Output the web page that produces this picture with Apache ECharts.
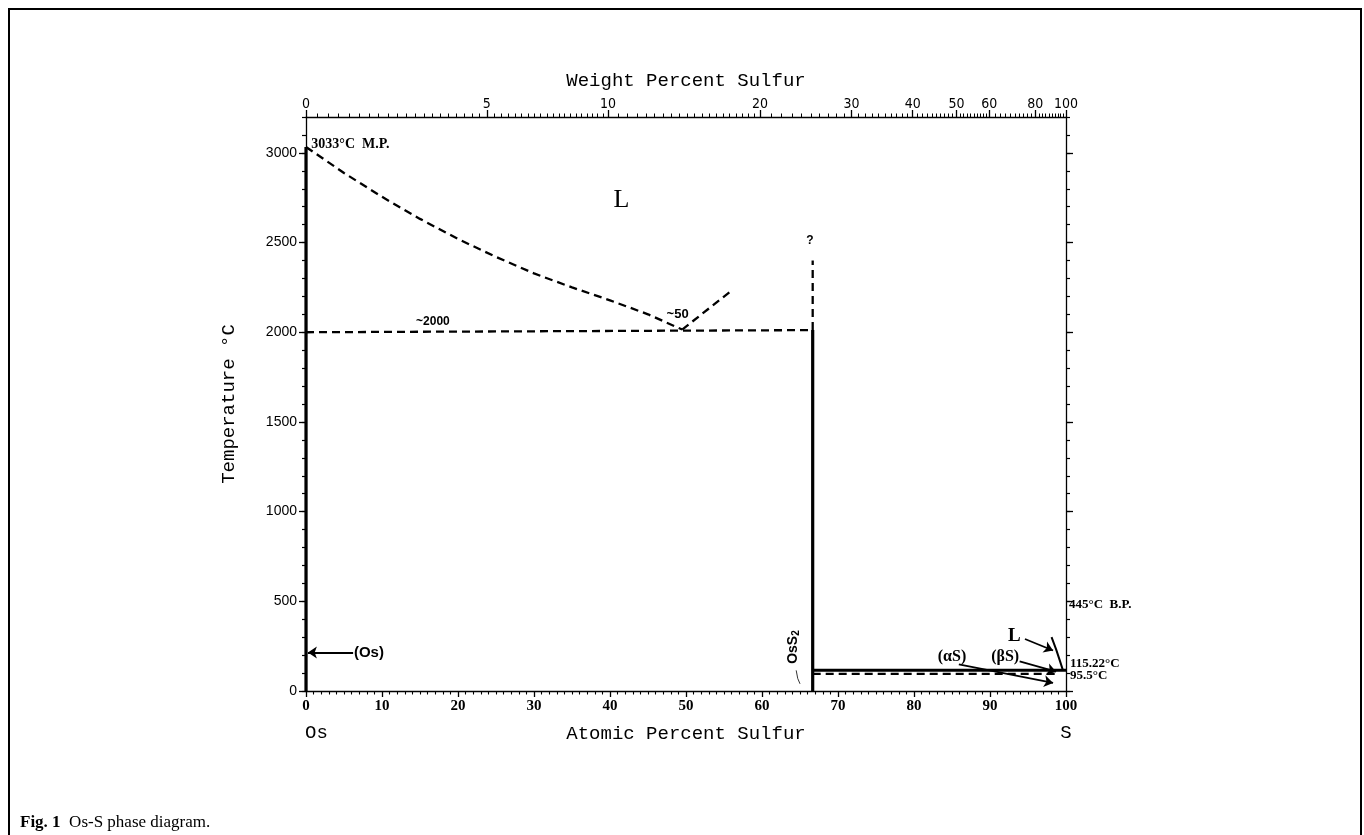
<!DOCTYPE html>
<html><head><meta charset="utf-8">
<script src="https://cdn.jsdelivr.net/npm/echarts@6/dist/echarts.min.js"></script>
<style>html,body{margin:0;padding:0;background:#fff}#c{width:1364px;height:835px}</style>
</head><body><div id="c"></div>
<script>
// ---- data ----
const weightTickLabels = [0, 5, 10, 20, 30, 40, 50, 60, 80, 100];
const tempMajorTicks = [0, 500, 1000, 1500, 2000, 2500, 3000];
const liquidusOs = [[0,3033],[5,2888],[10,2755],[15,2632],[20,2520],[25,2420],[30,2328],[35,2250],[40,2178],[45,2100],[49.5,2015]];
const liquidusRise = [[49.5,2015],[55.7,2222]];
const eutecticLine = [[0,2000],[66.67,2012]];
const osSolidus = [[0,0],[0,3033]];
const osS2Solid = [[66.67,0],[66.67,2012]];
const osS2Dashed = [[66.67,2012],[66.67,2400]];
const monotectic = [[66.67,115.22],[100,115.22]];
const sTransition = [[66.67,95.5],[99,95.5]];
const sLiquidus = [[98.1,300],[98.7,232],[99.2,168],[99.6,115.22]];
const osS2Leader = [[64.5,115],[64.7,70],[65.0,40]];
const osArrow = [[6.2,215],[0.25,215]];
const lArrow = [[94.6,290],[98.3,226]];
const betaArrow = [[93.9,165],[98.7,108]];
const alphaArrow = [[85.9,148],[98.3,45]];
const annotations = [
  {t:'3033°C  M.P.', p:[0.7,3050], a:'left',  f:'bold 14px "Liberation Serif"'},
  {t:'L',            p:[41.5,2737], a:'center',f:'26px "Liberation Serif"'},
  {t:'~2000',        p:[16.7,2060], a:'center',f:'bold 12px "Liberation Sans"'},
  {t:'~50',          p:[48.9,2100], a:'center',f:'bold 13px "Liberation Sans"'},
  {t:'?',            p:[66.3,2510], a:'center',f:'bold 12px "Liberation Sans"'},
  {t:'(Os)',         p:[6.3,215],   a:'left',  f:'bold 15px "Liberation Sans"'},
  {t:'(αS)',         p:[85.0,190],  a:'center',f:'bold 16px "Liberation Serif"'},
  {t:'(βS)',         p:[92.0,190],  a:'center',f:'bold 16px "Liberation Serif"'},
  {t:'L',            p:[93.2,305],  a:'center',f:'bold 19px "Liberation Serif"'},
  {t:'445°C  B.P.',  p:[100,480],   a:'left',  f:'bold 13px "Liberation Serif"', dx:3},
  {t:'115.22°C',     p:[100,155],   a:'left',  f:'bold 13px "Liberation Serif"', dx:4},
  {t:'95.5°C',       p:[100,85],    a:'left',  f:'bold 13px "Liberation Serif"', dx:4},
  {t:'Os',           p:[0,-235],    a:'left',  f:'19px "Liberation Mono"', dx:-1},
  {t:'S',            p:[100,-235],  a:'center',f:'19px "Liberation Mono"'}
];
// ---- helpers ----
const M_OS = 190.23, M_S = 32.06;
function wtToAt(w){ if (w >= 100) return 100; const s = w / M_S, o = (100 - w) / M_OS; return 100 * s / (s + o); }
const topMajor = weightTickLabels.map(wtToAt);
const topMinor = [];
for (let w = 0; w < 10; w += 0.25) topMinor.push(wtToAt(w));
for (let w = 10; w < 20; w += 0.5) topMinor.push(wtToAt(w));
for (let w = 20; w < 60; w += 1) topMinor.push(wtToAt(w));
for (let w = 60; w <= 100; w += 2) topMinor.push(wtToAt(w));
function topLabel(v){ let bi = 0; topMajor.forEach((a,i)=>{ if (Math.abs(a - v) < Math.abs(topMajor[bi] - v)) bi = i; }); return String(weightTickLabels[bi]); }

const K = '#000';
const lineBase = {type:'line', xAxisIndex:0, yAxisIndex:0, showSymbol:false, symbol:'none', silent:true, animation:false, z:5};
function solid(d, w){ return Object.assign({}, lineBase, {data:d, lineStyle:{color:K, width:w||3}}); }
function dashed(d, w){ return Object.assign({}, lineBase, {data:d, lineStyle:{color:K, width:w||2.3, type:[8,5]}}); }
function arrow(d){ return {type:'lines', coordinateSystem:'cartesian2d', xAxisIndex:0, yAxisIndex:0, silent:true, animation:false, z:6,
  symbol:['none','arrow'], symbolSize:9, lineStyle:{color:K, width:1.8, opacity:1}, data:[{coords:d}]}; }

const chart = echarts.init(document.getElementById('c'), null, {renderer:'canvas'});
const axLine = () => ({show:true, onZero:false, lineStyle:{color:K, width:1.3}});
const noLine = () => ({show:false, onZero:false});
chart.setOption({
  animation:false,
  backgroundColor:'#fff',
  grid:{left:306, right:298, top:117, bottom:144, containLabel:false},
  xAxis:[
    {type:'value', position:'bottom', min:0, max:100, interval:10, axisLine:axLine(),
     axisTick:{show:true, length:6, lineStyle:{color:K, width:1.3}},
     minorTick:{show:true, splitNumber:10, length:3.5, lineStyle:{color:K, width:1.1}},
     splitLine:{show:false},
     axisLabel:{color:K, fontFamily:'Liberation Serif', fontWeight:'bold', fontSize:15, margin:8},
     name:'Atomic Percent Sulfur', nameLocation:'middle', nameGap:33,
     nameTextStyle:{color:K, fontFamily:'Liberation Mono', fontSize:19}},
    {type:'value', position:'top', min:0, max:100, axisLine:axLine(),
     axisTick:{show:true, length:7, customValues:topMajor, lineStyle:{color:K, width:1.3}},
     splitLine:{show:false},
     axisLabel:{show:true, customValues:topMajor, formatter:topLabel, color:K, fontFamily:'Liberation Sans Narrow, DejaVu Sans Condensed, Liberation Sans', fontSize:14, margin:6},
     name:'Weight Percent Sulfur', nameLocation:'middle', nameGap:27,
     nameTextStyle:{color:K, fontFamily:'Liberation Mono', fontSize:19}},
    {type:'value', position:'top', min:0, max:100, axisLine:noLine(),
     axisTick:{show:true, length:3.5, customValues:topMinor, lineStyle:{color:K, width:1}},
     splitLine:{show:false}, axisLabel:{show:false}}
  ],
  yAxis:[
    {type:'value', position:'left', min:0, max:3200, interval:100, axisLine:axLine(),
     axisTick:{show:true, length:4, lineStyle:{color:K, width:1.2}},
     splitLine:{show:false},
     axisLabel:{show:true, customValues:tempMajorTicks, formatter:(v)=>String(v), color:K, fontFamily:'Liberation Sans', fontSize:14, margin:9},
     name:'Temperature °C', nameLocation:'middle', nameGap:68, nameRotate:90,
     nameTextStyle:{color:K, fontFamily:'Liberation Mono', fontSize:19}},
    {type:'value', position:'right', min:0, max:3200, interval:100, axisLine:axLine(),
     axisTick:{show:true, length:4, lineStyle:{color:K, width:1.2}},
     splitLine:{show:false}, axisLabel:{show:false}},
    {type:'value', position:'left', min:0, max:3200, axisLine:noLine(),
     axisTick:{show:true, length:7, customValues:tempMajorTicks, lineStyle:{color:K, width:1.3}},
     splitLine:{show:false}, axisLabel:{show:false}},
    {type:'value', position:'right', min:0, max:3200, axisLine:noLine(),
     axisTick:{show:true, length:7, customValues:tempMajorTicks, lineStyle:{color:K, width:1.3}},
     splitLine:{show:false}, axisLabel:{show:false}}
  ],
  series:[
    solid(osSolidus, 3.2),
    dashed(liquidusOs),
    dashed(liquidusRise),
    dashed(eutecticLine),
    solid(osS2Solid, 3.2),
    dashed(osS2Dashed),
    solid(monotectic, 3),
    dashed(sTransition, 2.4),
    solid(sLiquidus, 2),
    solid(osS2Leader, 0.8),
    arrow(osArrow), arrow(lArrow), arrow(betaArrow), arrow(alphaArrow)
  ]
});

const g = [];
annotations.forEach(an => {
  const px = chart.convertToPixel({xAxisIndex:0, yAxisIndex:0}, an.p);
  g.push({type:'text', x:px[0] + (an.dx||0), y:px[1], silent:true, z:10,
    style:{text:an.t, font:an.f, fill:K, align:an.a, verticalAlign:'middle'}});
});
const os2 = chart.convertToPixel({xAxisIndex:0, yAxisIndex:0}, [64.1, 245]);
g.push({type:'text', x:os2[0], y:os2[1], rotation:Math.PI/2, silent:true, z:10,
  style:{text:'OsS{s|2}', font:'bold 14px "Liberation Sans"', fill:K, align:'center', verticalAlign:'middle',
    rich:{s:{font:'bold 10px "Liberation Sans"', fill:K, padding:[6,0,0,0]}}}});
g.push({type:'rect', shape:{x:9, y:9, width:1352, height:860}, silent:true, z:0,
  style:{fill:'none', stroke:K, lineWidth:2}});
g.push({type:'text', x:20, y:823, silent:true, z:10,
  style:{text:'{b|Fig. 1}  Os-S phase diagram.', font:'17px "Liberation Serif"', fill:K, verticalAlign:'middle',
    rich:{b:{font:'bold 17px "Liberation Serif"', fill:K}}}});
chart.setOption({graphic:{elements:g}});
</script></body></html>
